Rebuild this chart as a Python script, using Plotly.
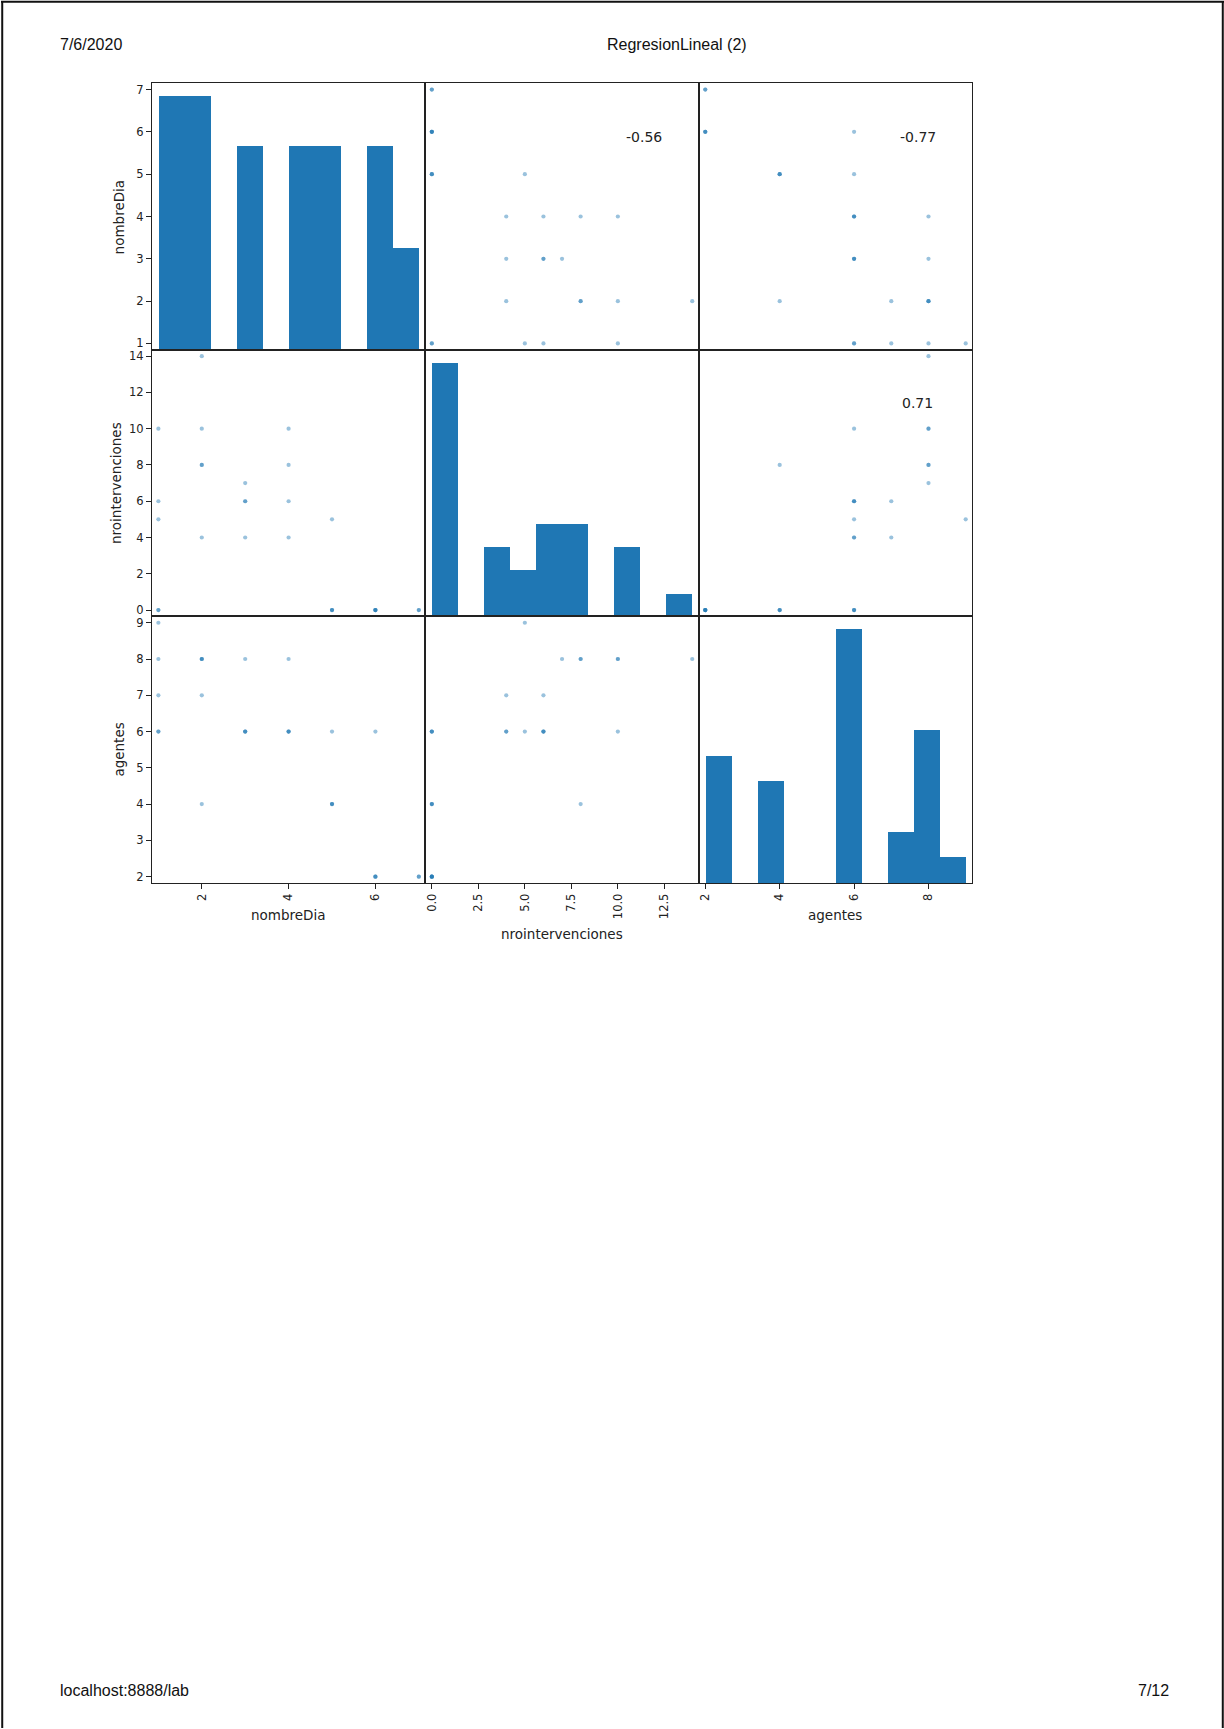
import numpy as np
import plotly.graph_objects as go

# ---------------- data ----------------
columns = ["nombreDia", "nrointervenciones", "agentes"]
nombreDia = [1, 1, 1, 1, 1, 2, 2, 2, 2, 2, 3, 3, 3, 3, 4, 4, 4, 4, 5, 5, 5, 5, 6, 6, 6, 6, 7, 7]
nrointervenciones = [0, 0, 5, 6, 10, 4, 8, 8, 10, 14, 4, 6, 6, 7, 4, 6, 8, 10, 0, 0, 0, 5, 0, 0, 0, 0, 0, 0]
agentes = [6, 6, 9, 7, 8, 7, 8, 4, 8, 8, 6, 6, 6, 8, 6, 6, 8, 6, 4, 4, 4, 6, 2, 2, 2, 6, 2, 2]

x_ticks_dia = [2, 4, 6]
x_ticks_nro = [0, 2.5, 5, 7.5, 10, 12.5]
x_ticks_age = [2, 4, 6, 8]
y_ticks_dia = [1, 2, 3, 4, 5, 6, 7]
y_ticks_nro = [0, 2, 4, 6, 8, 10, 12, 14]
y_ticks_age = [2, 3, 4, 5, 6, 7, 8, 9]

corr_cells = [(0, 1), (0, 2), (1, 2)]
corr_labels = ["-0.56", "-0.77", "0.71"]

header_left = "7/6/2020"
header_center = "RegresionLineal (2)"
footer_left = "localhost:8888/lab"
footer_right = "7/12"

# ---------------- layout geometry ----------------
W, H = 1224, 1729
LEFT, RIGHT, TOP, BOTTOM = 151.0, 972.0, 82.3, 883.0
CW = (RIGHT - LEFT) / 3
RH = (BOTTOM - TOP) / 3

data = [nombreDia, nrointervenciones, agentes]
x_ticks = [x_ticks_dia, x_ticks_nro, x_ticks_age]
y_ticks = [y_ticks_dia, y_ticks_nro, y_ticks_age]
x_fmt = ["d", ".1f", "d"]

ranges = []
for v in data:
    lo, hi = min(v), max(v)
    pad = (hi - lo) * 0.05 / 2
    ranges.append([lo - pad, hi + pad])


def xdom(c):
    return [(LEFT + c * CW) / W, (LEFT + (c + 1) * CW) / W]


def ydom(r):
    return [1 - (TOP + (r + 1) * RH) / H, 1 - (TOP + r * RH) / H]


def ax_name(prefix, k):
    return prefix if k == 1 else f"{prefix}{k}"


TICKFONT = dict(family="DejaVu Sans", size=11.5, color="#222")
LINEC = "#222"
DOT = "rgba(31,119,180,0.45)"
BAR = "#1f77b4"

fig = go.Figure()
layout = dict(
    width=W, height=H, margin=dict(l=0, r=0, t=0, b=0),
    paper_bgcolor="white", plot_bgcolor="white", showlegend=False,
    bargap=0,
)

for r in range(3):
    for c in range(3):
        k = r * 3 + c + 1
        xa = ax_name("x", k)
        ya = ax_name("y", k)
        xkey = ax_name("xaxis", k)
        ykey = ax_name("yaxis", k)
        xaxis = dict(domain=xdom(c), anchor=ya, range=ranges[c], showline=True, mirror=True,
                     linecolor=LINEC, linewidth=1, showgrid=False, zeroline=False,
                     tickfont=TICKFONT, fixedrange=True)
        if r == 2:
            xaxis.update(tickmode="array", tickvals=x_ticks[c], tickformat=x_fmt[c],
                         ticks="outside", ticklen=5, tickcolor=LINEC, tickangle=-90)
        else:
            xaxis.update(showticklabels=False, ticks="")
        yaxis = dict(domain=ydom(r), anchor=xa, showline=True, mirror=True,
                     linecolor=LINEC, linewidth=1, showgrid=False, zeroline=False,
                     tickfont=TICKFONT, fixedrange=True)
        if r == c:
            counts, edges = np.histogram(data[c], bins=10)
            centers = (edges[:-1] + edges[1:]) / 2
            widths = np.diff(edges)
            yaxis.update(range=[0, counts.max() * 1.05], showticklabels=False, ticks="")
            fig.add_trace(go.Bar(x=centers, y=counts, width=widths, marker_color=BAR,
                                 marker_line_width=0, xaxis=xa, yaxis=ya, hoverinfo="skip"))
        else:
            yaxis.update(range=ranges[r])
            if c == 0:
                yaxis.update(tickmode="array", tickvals=y_ticks[r], ticks="outside",
                             ticklen=5, tickcolor=LINEC)
            else:
                yaxis.update(showticklabels=False, ticks="")
            fig.add_trace(go.Scatter(x=data[c], y=data[r], mode="markers",
                                     marker=dict(size=4.2, color=DOT, line=dict(width=0)),
                                     xaxis=xa, yaxis=ya, hoverinfo="skip"))
        layout[xkey] = xaxis
        layout[ykey] = yaxis

# visible value axis for the top-left histogram cell
layout["yaxis10"] = dict(overlaying="y", anchor="x", side="left", range=ranges[0],
                         tickmode="array", tickvals=y_ticks[0], ticks="outside", ticklen=5,
                         tickcolor=LINEC, showline=True, linecolor=LINEC, linewidth=1,
                         showgrid=False, zeroline=False, tickfont=TICKFONT, fixedrange=True)
fig.add_trace(go.Scatter(x=[None], y=[None], xaxis="x", yaxis="y10", mode="markers",
                         hoverinfo="skip"))

annotations = []
for (r, c), lab in zip(corr_cells, corr_labels):
    k = r * 3 + c + 1
    annotations.append(dict(text=lab, xref=f"{ax_name('x', k)} domain", yref=f"{ax_name('y', k)} domain",
                            x=0.8, y=0.8, showarrow=False, xanchor="center", yanchor="middle",
                            font=dict(family="DejaVu Sans", size=14, color="#222")))

LABELFONT = dict(family="DejaVu Sans", size=13.5, color="#222")
xlab_y = [915, 934, 915]
for c in range(3):
    annotations.append(dict(text=columns[c], xref="paper", yref="paper",
                            x=(LEFT + (c + 0.5) * CW) / W, y=1 - xlab_y[c] / H,
                            showarrow=False, xanchor="center", yanchor="middle", font=LABELFONT))
ylab_x = [118, 115, 118]
for r in range(3):
    annotations.append(dict(text=columns[r], xref="paper", yref="paper",
                            x=ylab_x[r] / W, y=1 - (TOP + (r + 0.5) * RH) / H, textangle=-90,
                            showarrow=False, xanchor="center", yanchor="middle", font=LABELFONT))

PAGEFONT = dict(family="Liberation Sans", size=16, color="#111")
annotations += [
    dict(text=header_left, xref="paper", yref="paper", x=57 / W, y=1 - 44 / H,
         xanchor="left", yanchor="middle", showarrow=False, font=PAGEFONT),
    dict(text=header_center, xref="paper", yref="paper", x=677 / W, y=1 - 44 / H,
         xanchor="center", yanchor="middle", showarrow=False, font=PAGEFONT),
    dict(text=footer_left, xref="paper", yref="paper", x=57 / W, y=1 - 1691 / H,
         xanchor="left", yanchor="middle", showarrow=False, font=PAGEFONT),
    dict(text=footer_right, xref="paper", yref="paper", x=1171 / W, y=1 - 1691 / H,
         xanchor="right", yanchor="middle", showarrow=False, font=PAGEFONT),
]
layout["annotations"] = annotations

# page frame (left, top, right edges)
layout["shapes"] = [
    dict(type="line", xref="paper", yref="paper", x0=0.001, x1=0.001, y0=0, y1=1,
         line=dict(color="#111", width=2)),
    dict(type="line", xref="paper", yref="paper", x0=0, x1=1, y0=0.9995, y1=0.9995,
         line=dict(color="#111", width=2)),
    dict(type="line", xref="paper", yref="paper", x0=0.999, x1=0.999, y0=0, y1=1,
         line=dict(color="#111", width=2)),
]

fig.update_layout(**layout)
fig.write_html("out.html", config={"displayModeBar": False},
               post_script="document.body.style.margin='0px';")
